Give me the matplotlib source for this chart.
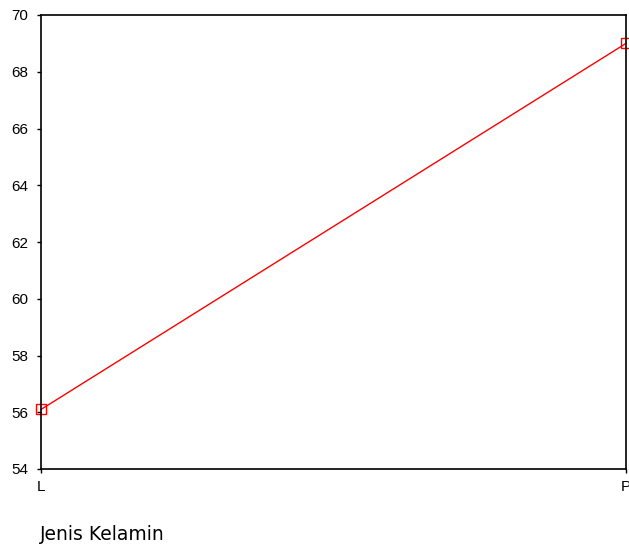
import matplotlib
matplotlib.use("Agg")
import matplotlib.pyplot as plt

categories = ["L", "P"]
values = [56.1, 69.0]
yticks = [54, 56, 58, 60, 62, 64, 66, 68, 70]
xlabel = "Jenis Kelamin"

plt.rcParams['font.family'] = ['Liberation Sans', 'DejaVu Sans']

fig = plt.figure(figsize=(6.29, 5.46), dpi=100)
ax = fig.add_axes([41/629, 1-469/546, (626-41)/629, (469-15)/546])
x = list(range(len(categories)))
ax.plot(x, values, color='red', lw=1, marker='s', ms=6.5, mfc='none', mec='red', mew=1, clip_on=False)
ax.set_xlim(0, len(categories)-1)
ax.set_ylim(54, 70)
ax.set_yticks(yticks)
ax.set_yticklabels([str(t) for t in yticks], fontsize=11)
ax.set_xticks(x)
ax.set_xticklabels(categories, fontsize=11)
ax.tick_params(axis='y', direction='out', length=3, width=1, pad=6)
ax.tick_params(axis='x', direction='out', length=3, width=1, pad=5)
for s in ax.spines.values():
    s.set_linewidth(1.2)
fig.text(40/629, 1-540/546, xlabel, fontsize=13.5, va='baseline', ha='left',
         family=['DejaVu Sans'])
fig.savefig("out.png", dpi=100)
